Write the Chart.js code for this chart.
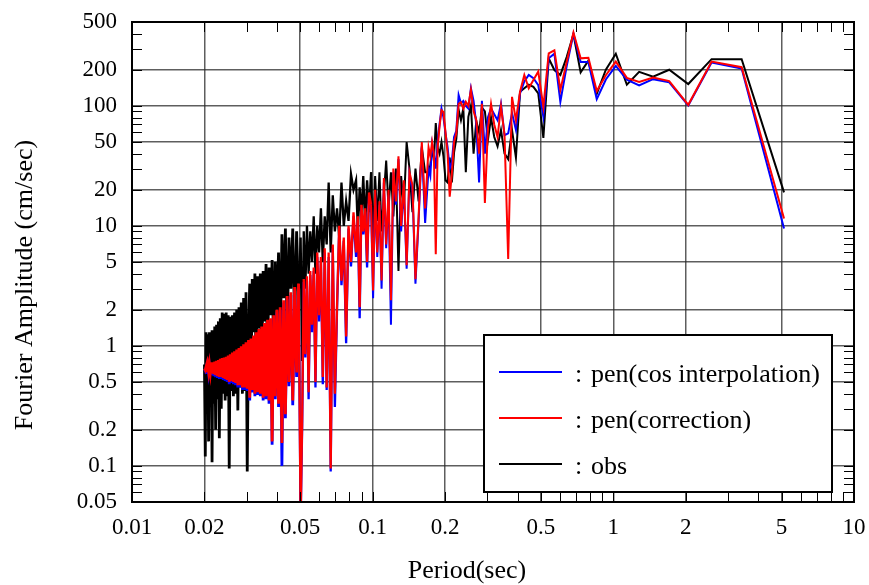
<!DOCTYPE html>
<html lang="en">
<head>
<meta charset="UTF-8">
<title>Fourier Amplitude Spectrum</title>
<script src="https://cdn.jsdelivr.net/npm/chart.js"></script>
<style>
    body { margin: 0; background: #fff; }
    #wrap { width: 869px; height: 585px; position: relative; }
</style>
</head>
<body>
<div id="wrap"><canvas id="spectrum"></canvas></div>
<script>
// periods (sec) of the spectral lines, long period first
const period = [
    5.12, 3.413, 2.56, 2.048, 1.707, 1.463, 1.28, 1.138, 1.024, 0.9309,
    0.8533, 0.7877, 0.7314, 0.6827, 0.64, 0.6024, 0.5689, 0.5389, 0.512, 0.4876,
    0.4655, 0.4452, 0.4267, 0.4096, 0.3938, 0.3793, 0.3657, 0.3531, 0.3413, 0.3303,
    0.32, 0.3103, 0.3012, 0.2926, 0.2844, 0.2768, 0.2695, 0.2626, 0.256, 0.2498,
    0.2438, 0.2381, 0.2327, 0.2276, 0.2226, 0.2179, 0.2133, 0.209, 0.2048, 0.2008,
    0.1969, 0.1932, 0.1896, 0.1862, 0.1829, 0.1796, 0.1766, 0.1736, 0.1707,
    0.1652, 0.16, 0.1552, 0.1506, 0.1463, 0.1422, 0.1384, 0.1347, 0.1313, 0.128,
    0.1249, 0.1219, 0.1191, 0.1164, 0.1138, 0.1113, 0.1089, 0.1067, 0.1045, 0.1024,
    0.1004, 0.0985, 0.0966, 0.0948, 0.0931, 0.0914, 0.0898, 0.0883, 0.0868, 0.0853,
    0.08325, 0.08127, 0.07938, 0.07758, 0.07585, 0.0742, 0.07262, 0.07111, 0.06966, 0.06827,
    0.06693, 0.06564, 0.0644, 0.06321, 0.06206, 0.06095, 0.05988, 0.05885, 0.05785, 0.05689,
    0.05596, 0.05505, 0.05418, 0.05333, 0.05251, 0.05172, 0.05095,
    0.0502, 0.04923, 0.0483, 0.04741, 0.04655, 0.04571, 0.04491, 0.04414, 0.04339, 0.04267,
    0.04197, 0.04129, 0.04063, 0.04, 0.03938, 0.03879, 0.03821, 0.03765, 0.0371, 0.03657,
    0.03606, 0.03556, 0.03507, 0.03459, 0.03413, 0.03368, 0.03325, 0.03282, 0.03241, 0.032,
    0.0316, 0.03122, 0.03084, 0.03048, 0.03012, 0.02977, 0.02943, 0.02909, 0.02876, 0.02844,
    0.02813, 0.02783, 0.02753, 0.02723, 0.02695, 0.02667, 0.02639, 0.02612, 0.02586, 0.0256,
    0.02535, 0.0251, 0.02485, 0.02462, 0.02438, 0.02415, 0.02393, 0.0237, 0.02349, 0.02327,
    0.02306, 0.02286, 0.02265, 0.02246, 0.02226, 0.02207, 0.02188, 0.02169, 0.02151, 0.02133,
    0.02116, 0.02098, 0.02081, 0.02065, 0.02048, 0.02032, 0.02016, 0.02
];

// pen(cos interpolation)
const ampCos = [
    9.5, 205, 230, 101, 157, 167, 148, 165, 215, 166,
    114, 232, 232, 398, 215, 108, 272, 249, 81, 149,
    170, 181, 160, 127, 63, 87, 59, 57, 104, 76,
    85, 95, 80, 40, 110, 23, 70, 110, 140, 95,
    100, 110, 105, 123, 62, 55, 34, 30, 45, 59,
    80, 95, 70, 50, 30, 40, 48, 26, 30,
    10.6, 46, 11, 3.3, 20, 27, 4.4, 22, 9, 36,
    15, 28, 1.5, 18, 6.5, 23, 3.0, 15, 5.5, 19,
    2.5, 14, 18, 4.5, 13, 8.5, 14, 1.7, 11, 5.5,
    12, 4.6, 9.5, 1.05, 7.5, 3.2, 9.5, 2.0, 0.31, 6.5,
    0.09, 5.5, 0.43, 6, 0.48, 5, 1.6, 5.5, 0.45, 4.2,
    1.3, 3.9, 0.36, 3.5, 0.8, 3.4, 0.22,
    0.035, 3.1, 0.55, 2.9, 0.32, 2.65, 0.46, 2.45, 0.25, 2.3,
    0.1, 2.0, 0.31, 1.9, 0.36, 1.7, 0.15, 1.6, 0.33, 1.55,
    0.36, 1.47, 0.35, 1.38, 0.38, 1.31, 0.39, 1.24, 0.38, 1.16,
    0.41, 1.1, 0.35, 1.06, 0.42, 1.02, 0.43, 0.98, 0.43, 0.95,
    0.45, 0.92, 0.45, 0.89, 0.47, 0.86, 0.48, 0.84, 0.49, 0.81,
    0.48, 0.8, 0.5, 0.78, 0.51, 0.77, 0.52, 0.76, 0.53, 0.75,
    0.53, 0.73, 0.54, 0.72, 0.55, 0.71, 0.56, 0.7, 0.57, 0.69,
    0.58, 0.68, 0.59, 0.67, 0.6, 0.66, 0.62, 0.64
];

// pen(correction)
const ampCorr = [
    11.5, 210, 234, 102, 161, 172, 158, 171, 234, 180,
    133, 252, 249, 408, 232, 136, 290, 274, 98, 193,
    164, 140, 181, 131, 76, 119, 5.3, 57, 99, 55,
    70, 104, 65, 15.5, 104, 40, 76, 90, 136, 100,
    108, 95, 107, 104, 59, 50, 27, 17.5, 40, 60,
    89, 92, 67, 45, 5.8, 40, 50, 38, 45,
    14, 50, 12, 3.6, 22, 28, 4.7, 24, 10, 38,
    16, 30, 2.4, 20, 7, 25, 3.5, 16, 6, 20,
    2.9, 15, 19, 5, 14, 9, 15, 2.1, 12, 6,
    13, 5, 10, 1.2, 8, 3.5, 10, 2.2, 0.4, 7,
    0.095, 6, 0.45, 6.5, 0.55, 5.5, 1.8, 6, 0.5, 4.5,
    1.5, 4.2, 0.41, 3.8, 0.85, 3.6, 0.25,
    0.035, 3.3, 0.6, 3.1, 0.35, 2.8, 0.5, 2.6, 0.27, 2.4,
    0.155, 2.1, 0.33, 2.0, 0.38, 1.8, 0.16, 1.7, 0.35, 1.65,
    0.38, 1.55, 0.37, 1.45, 0.4, 1.38, 0.41, 1.3, 0.4, 1.22,
    0.43, 1.15, 0.37, 1.12, 0.44, 1.07, 0.45, 1.03, 0.45, 0.99,
    0.47, 0.96, 0.47, 0.93, 0.49, 0.9, 0.5, 0.88, 0.51, 0.85,
    0.5, 0.83, 0.52, 0.81, 0.53, 0.8, 0.54, 0.79, 0.55, 0.78,
    0.55, 0.76, 0.56, 0.75, 0.57, 0.74, 0.58, 0.73, 0.59, 0.71,
    0.6, 0.7, 0.61, 0.69, 0.62, 0.67, 0.63, 0.65
];

// obs
const ampObs = [
    19, 245, 245, 152, 200, 175, 192, 150, 272, 200,
    126, 238, 190, 395, 255, 181, 199, 249, 54, 127,
    144, 150, 140, 131, 37, 63, 36, 40, 63, 46,
    55, 80, 52, 90, 97, 60, 75, 40, 100, 81,
    28, 95, 76, 93, 53, 41, 23, 37, 23, 24,
    38, 50, 40, 45, 72, 35, 45, 32, 28,
    28, 45, 16, 30, 13, 30, 50, 14, 26, 4.2,
    30, 12, 28, 14, 35, 18, 9, 28, 11, 26,
    8, 28, 13, 24, 10, 26, 12, 21, 9, 24,
    20, 27, 11, 16, 10, 23, 8, 14, 9, 18,
    6, 23, 7, 12, 5, 14, 6, 10, 4, 12,
    5, 9, 4, 10, 3, 9, 0.75,
    8, 2.5, 9, 1.5, 9.5, 3, 8, 1.2, 9.5, 2.5,
    8.5, 0.9, 6, 2, 5, 0.8, 5.2, 1.8, 4.5, 0.7,
    4.8, 1.6, 4.2, 0.6, 4.0, 1.4, 3.8, 0.55, 4.0, 1.3,
    3.6, 0.5, 3.3, 1.2, 0.09, 2.8, 0.42, 2.5, 0.4, 2.3,
    0.45, 2.1, 0.29, 2.0, 0.4, 1.9, 0.38, 1.8, 0.42, 1.75,
    0.095, 1.8, 0.38, 1.9, 0.35, 1.85, 0.4, 1.9, 0.3, 1.7,
    0.17, 1.6, 0.36, 1.5, 0.2, 1.45, 0.33, 1.35, 0.107, 1.3,
    0.32, 1.3, 0.16, 1.25, 0.3, 1.3, 0.12, 0.7
];

// tick marks on both log axes, and the ones that get a label and a grid line
const xTickValues = [
    0.01, 0.02, 0.03, 0.04, 0.05, 0.06, 0.07, 0.08, 0.09,
    0.1, 0.2, 0.3, 0.4, 0.5, 0.6, 0.7, 0.8, 0.9,
    1, 2, 3, 4, 5, 6, 7, 8, 9, 10
];
const xLabelled = [0.01, 0.02, 0.05, 0.1, 0.2, 0.5, 1, 2, 5, 10];
const yTickValues = [
    0.05, 0.06, 0.07, 0.08, 0.09,
    0.1, 0.2, 0.3, 0.4, 0.5, 0.6, 0.7, 0.8, 0.9,
    1, 2, 3, 4, 5, 6, 7, 8, 9,
    10, 20, 30, 40, 50, 60, 70, 80, 90,
    100, 200, 300, 400, 500
];
const yLabelled = [0.05, 0.1, 0.2, 0.5, 1, 2, 5, 10, 20, 50, 100, 200, 500];

const FONT = 'Liberation Serif, Times New Roman, serif';
const GRID = 'rgba(40, 40, 40, 0.75)';

const toPoints = values => period.map((p, i) => ({ x: p, y: values[i] }));

// the short-period band is very dense, so draw it with a slightly heavier pen
const bandWidth = c => {
    const p = c.p0.parsed.x;
    if (p < 0.05) return 2.8;
    if (p < 0.1) return 2.3;
    return 2;
};

// scales should not push the plot area around for their edge labels
const noEdgePadding = s => {
    s.paddingTop = 0; s.paddingBottom = 0;
    s.paddingLeft = 0; s.paddingRight = 0;
};

// inward tick marks on all four sides plus the heavy frame
const frameTicks = {
    id: 'frameTicks',
    afterDatasetsDraw(chart) {
        const { ctx, chartArea: a, scales: { x, y } } = chart;
        ctx.save();
        ctx.strokeStyle = '#000';
        ctx.lineWidth = 1;
        ctx.beginPath();
        xTickValues.forEach(v => {
            const px = Math.round(x.getPixelForValue(v)) + 0.5;
            ctx.moveTo(px, a.bottom); ctx.lineTo(px, a.bottom - 10);
            ctx.moveTo(px, a.top); ctx.lineTo(px, a.top + 10);
        });
        yTickValues.forEach(v => {
            const py = Math.round(y.getPixelForValue(v)) + 0.5;
            ctx.moveTo(a.left, py); ctx.lineTo(a.left + 10, py);
            ctx.moveTo(a.right, py); ctx.lineTo(a.right - 10, py);
        });
        ctx.stroke();
        ctx.lineWidth = 2;
        ctx.strokeRect(a.left, a.top, a.right - a.left, a.bottom - a.top);
        ctx.restore();
    }
};

// axis titles and the boxed legend in the lower right
const annotations = {
    id: 'annotations',
    afterDraw(chart) {
        const { ctx } = chart;
        ctx.save();
        ctx.fillStyle = '#000';
        ctx.font = '26px ' + FONT;
        ctx.textAlign = 'center';
        ctx.textBaseline = 'middle';
        ctx.fillText('Period(sec)', 467, 571);
        ctx.translate(25, 285);
        ctx.rotate(-Math.PI / 2);
        ctx.fillText('Fourier Amplitude (cm/sec)', 0, 0);
        ctx.restore();

        const box = { left: 484, top: 335, right: 832, bottom: 492 };
        ctx.save();
        ctx.fillStyle = '#fff';
        ctx.fillRect(box.left, box.top, box.right - box.left, box.bottom - box.top);
        ctx.strokeStyle = '#000';
        ctx.lineWidth = 2;
        ctx.strokeRect(box.left, box.top, box.right - box.left, box.bottom - box.top);
        ctx.font = '26px ' + FONT;
        ctx.textBaseline = 'middle';
        ctx.fillStyle = '#000';
        chart.data.datasets.forEach((ds, i) => {
            const ly = 372 + i * 46;
            ctx.strokeStyle = ds.borderColor;
            ctx.lineWidth = 2;
            ctx.beginPath();
            ctx.moveTo(499, ly);
            ctx.lineTo(562, ly);
            ctx.stroke();
            ctx.fillText(':', 575, ly + 3);
            ctx.fillText(ds.label, 591, ly + 3);
        });
        ctx.restore();
    }
};

new Chart(document.getElementById('spectrum'), {
    type: 'line',
    data: {
        datasets: [
            { label: 'pen(cos interpolation)', data: toPoints(ampCos), borderColor: '#0000ff', order: 1 },
            { label: 'pen(correction)', data: toPoints(ampCorr), borderColor: '#ff0000', order: 0 },
            { label: 'obs', data: toPoints(ampObs), borderColor: '#000000', order: 2 }
        ]
    },
    options: {
        responsive: true,
        maintainAspectRatio: false,
        devicePixelRatio: 1,
        animation: false,
        events: [],
        layout: { padding: { left: 0, right: 15, top: 22, bottom: 0 } },
        elements: {
            line: { borderWidth: 2, tension: 0, fill: false },
            point: { radius: 0 }
        },
        datasets: {
            line: { segment: { borderWidth: bandWidth } }
        },
        plugins: {
            legend: { display: false },
            tooltip: { enabled: false }
        },
        scales: {
            x: {
                type: 'logarithmic',
                min: 0.01,
                max: 10,
                afterFit: s => { s.height = 83; noEdgePadding(s); },
                afterBuildTicks: s => { s.ticks = xTickValues.map(v => ({ value: v })); },
                border: { display: false },
                grid: {
                    drawTicks: false,
                    lineWidth: 1.5,
                    color: c => xLabelled.includes(c.tick && c.tick.value) ? GRID : 'rgba(0,0,0,0)'
                },
                ticks: {
                    autoSkip: false,
                    maxRotation: 0,
                    padding: 12,
                    color: '#000',
                    font: { family: FONT, size: 23 },
                    callback: v => xLabelled.includes(v) ? String(v) : ''
                }
            },
            y: {
                type: 'logarithmic',
                min: 0.05,
                max: 500,
                afterFit: s => { s.width = 132; noEdgePadding(s); },
                afterBuildTicks: s => { s.ticks = yTickValues.map(v => ({ value: v })); },
                border: { display: false },
                grid: {
                    drawTicks: false,
                    lineWidth: 1.5,
                    color: c => yLabelled.includes(c.tick && c.tick.value) ? GRID : 'rgba(0,0,0,0)'
                },
                ticks: {
                    autoSkip: false,
                    padding: 15,
                    color: '#000',
                    font: { family: FONT, size: 23 },
                    callback: v => yLabelled.includes(v) ? String(v) : ''
                }
            }
        }
    },
    plugins: [frameTicks, annotations]
});
</script>
</body>
</html>
